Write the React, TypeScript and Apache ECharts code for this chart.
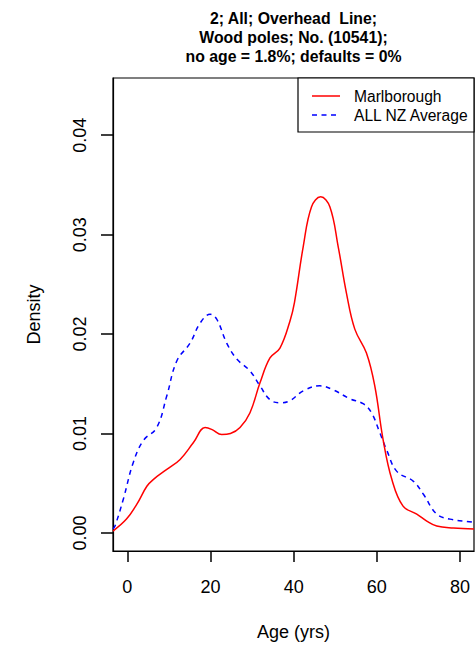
import React, { useEffect, useRef } from "react";
import * as echarts from "echarts";

const TITLE_LINES = ["2; All; Overhead  Line;", "Wood poles; No. (10541);", "no age = 1.8%; defaults = 0%"];
const X_TICKS = [0, 20, 40, 60, 80];
const Y_TICKS = [0, 0.01, 0.02, 0.03, 0.04];
const SERIES_NAMES = ["Marlborough", "ALL NZ Average"];
const X_MIN = -3.44;
const X_MAX = 83.36;
const Y_MIN = -0.001806;
const Y_MAX = 0.045749;

const RED_AGE = [-3.44, -0.2, 2.3, 4.7, 6.3, 9.5, 12.7, 15.9, 18.7, 20.4, 22.7, 24.8, 27.1, 29.5, 31.9, 34.3, 36.7, 39.1, 40.2, 42.3, 44.3, 46.5, 48.7, 50.7, 52.7, 54.7, 57.5, 59.5, 61.5, 63.6, 66.3, 69.6, 72, 74.4, 78.4, 83.36];
const RED_DENS = [0.0002, 0.0014, 0.0029, 0.0047, 0.0054, 0.0064, 0.0074, 0.0091, 0.0106, 0.0104, 0.0099, 0.01, 0.0106, 0.0121, 0.0151, 0.0176, 0.0186, 0.0213, 0.0232, 0.0288, 0.0328, 0.0338, 0.0328, 0.0288, 0.0241, 0.0205, 0.0181, 0.0148, 0.0094, 0.0054, 0.0027, 0.0019, 0.0012, 0.0007, 0.0005, 0.0004];

const BLUE_AGE = [-3.44, -2.96, -0.96, 1.44, 3.85, 7.07, 9.5, 11.9, 15.1, 17.5, 19.9, 21.5, 23.9, 26.3, 29.5, 31.9, 34.3, 36.7, 39.1, 42.3, 46.3, 49.5, 53.5, 56.7, 58.7, 60.7, 62.4, 64.8, 68.8, 71.2, 74.4, 77.6, 82.8, 83.36];
const BLUE_DENS = [0.0004, 0.0007, 0.0034, 0.0071, 0.0093, 0.0106, 0.0138, 0.0173, 0.0191, 0.0211, 0.022, 0.0215, 0.0191, 0.0175, 0.0163, 0.0148, 0.0134, 0.0131, 0.0133, 0.0143, 0.0148, 0.0144, 0.0135, 0.013, 0.0121, 0.0101, 0.0083, 0.0062, 0.0052, 0.0039, 0.0019, 0.0014, 0.0011, 0.001];

const FONT = "'Liberation Sans', Arial, Helvetica, sans-serif";

const GRID_LEFT = 113;
const GRID_TOP = 78;
const GRID_W = 361;
const GRID_H = 474;

export default function App() {
  const ref = useRef<HTMLDivElement>(null);
  useEffect(() => {
    if (!ref.current) return;
    const chart = echarts.init(ref.current, undefined, { renderer: "svg" });
    const red = RED_AGE.map((a, i) => [a, RED_DENS[i]]);
    const blue = BLUE_AGE.map((a, i) => [a, BLUE_DENS[i]]);

    chart.setOption({
      animation: false,
      backgroundColor: "#ffffff",
      textStyle: { fontFamily: FONT },
      grid: {
        left: GRID_LEFT,
        top: GRID_TOP,
        width: GRID_W,
        height: GRID_H,
        show: true,
        borderColor: "#000",
        borderWidth: 1.2,
        backgroundColor: "transparent",
      },
      xAxis: {
        type: "value",
        min: X_MIN,
        max: X_MAX,
        axisLine: { show: true, onZero: false, lineStyle: { color: "#000", width: 1.2 } },
        splitLine: { show: false },
        axisTick: { show: true, inside: false, customValues: X_TICKS, length: 11, lineStyle: { color: "#000", width: 1.5 } },
        axisLabel: { customValues: X_TICKS, fontSize: 18, color: "#000", margin: 27, fontFamily: FONT },
        name: "Age (yrs)",
        nameLocation: "middle",
        nameGap: 72,
        nameTextStyle: { fontSize: 18, color: "#000", fontFamily: FONT },
      },
      yAxis: {
        type: "value",
        min: Y_MIN,
        max: Y_MAX,
        axisLine: { show: true, onZero: false, lineStyle: { color: "#000", width: 1.2 } },
        splitLine: { show: false },
        axisTick: { show: true, inside: false, customValues: Y_TICKS, length: 12, lineStyle: { color: "#000", width: 1.5 } },
        axisLabel: {
          customValues: Y_TICKS,
          rotate: 90,
          fontSize: 18,
          color: "#000",
          margin: 24,
          fontFamily: FONT,
          formatter: (v: number) => v.toFixed(2),
        },
        name: "Density",
        nameLocation: "middle",
        nameGap: 70,
        nameTextStyle: { fontSize: 18, color: "#000", fontFamily: FONT },
      },
      series: [
        {
          name: SERIES_NAMES[0],
          type: "line",
          data: red,
          smooth: 0.4,
          showSymbol: false,
          lineStyle: { color: "#ff0000", width: 1.5 },
          z: 3,
        },
        {
          name: SERIES_NAMES[1],
          type: "line",
          data: blue,
          smooth: 0.4,
          showSymbol: false,
          lineStyle: { color: "#0000ff", width: 1.5, type: [5, 4.5] },
          z: 2,
        },
      ],
      graphic: [
        {
          type: "text",
          x: 293.5,
          y: 8.5,
          style: {
            text: TITLE_LINES.join("\n"),
            textAlign: "center",
            textVerticalAlign: "top",
            font: `bold 15.8px ${FONT}`,
            lineHeight: 19.3,
            fill: "#000",
          },
        },
        {
          type: "rect",
          shape: { x: 298, y: 78, width: 176, height: 54 },
          style: { fill: "#fff", stroke: "#000", lineWidth: 1.2 },
          z: 10,
        },
        {
          type: "line",
          shape: { x1: 312, y1: 96, x2: 340, y2: 96 },
          style: { stroke: "#ff0000", lineWidth: 1.5 },
          z: 11,
        },
        {
          type: "line",
          shape: { x1: 312, y1: 115, x2: 340, y2: 115 },
          style: { stroke: "#0000ff", lineWidth: 1.5, lineDash: [5, 4.5] },
          z: 11,
        },
        {
          type: "text",
          x: 354,
          y: 96,
          style: { text: SERIES_NAMES[0], font: `15.6px ${FONT}`, textVerticalAlign: "middle", fill: "#000" },
          z: 11,
        },
        {
          type: "text",
          x: 354,
          y: 115,
          style: { text: SERIES_NAMES[1], font: `15.6px ${FONT}`, textVerticalAlign: "middle", fill: "#000" },
          z: 11,
        },
      ],
    });

    return () => chart.dispose();
  }, []);
  return <div ref={ref} style={{ position: "fixed", left: 0, top: 0, width: 476, height: 646 }} />;
}
